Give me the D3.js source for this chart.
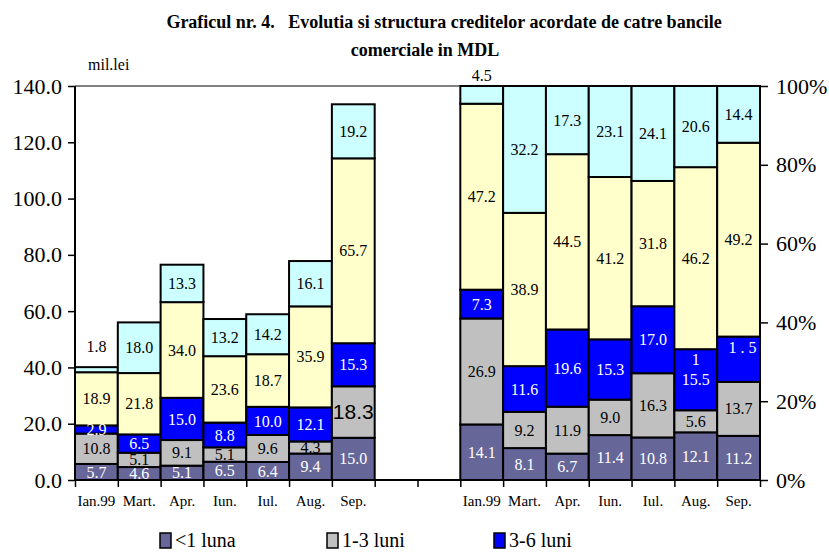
<!DOCTYPE html>
<html>
<head>
<meta charset="utf-8">
<script src="https://cdn.jsdelivr.net/npm/d3@7"></script>
<style>
  body { margin: 0; background: #fff; }
  svg text { font-family: "Liberation Serif", "Times New Roman", serif; }
  svg text.sans { font-family: "Liberation Sans", Arial, sans-serif; }
</style>
</head>
<body>
<svg id="chart" width="829" height="552"></svg>
<script>
// month labels (same for both groups)
const categories = ["Ian.99", "Mart.", "Apr.", "Iun.", "Iul.", "Aug.", "Sep."];
const legendNames = ["<1 luna", "1-3 luni", "3-6 luni"];
const leftTicks = [0, 20, 40, 60, 80, 100, 120, 140];
const rightTicks = [0, 20, 40, 60, 80, 100];

// left group: mil.lei
const absLt1 = [5.7, 4.6, 5.1, 6.5, 6.4, 9.4, 15.0];
const abs1to3 = [10.8, 5.1, 9.1, 5.1, 9.6, 4.3, 18.3];
const abs3to6 = [2.9, 6.5, 15.0, 8.8, 10.0, 12.1, 15.3];
const abs6to12 = [18.9, 21.8, 34.0, 23.6, 18.7, 35.9, 65.7];
const absOver12 = [1.8, 18.0, 13.3, 13.2, 14.2, 16.1, 19.2];
// right group: structure, %
const pctLt1 = [14.1, 8.1, 6.7, 11.4, 10.8, 12.1, 11.2];
const pct1to3 = [26.9, 9.2, 11.9, 9.0, 16.3, 5.6, 13.7];
const pct3to6 = [7.3, 11.6, 19.6, 15.3, 17.0, 15.5, 11.5];
const pct6to12 = [47.2, 38.9, 44.5, 41.2, 31.8, 46.2, 49.2];
const pctOver12 = [4.5, 32.2, 17.3, 23.1, 24.1, 20.6, 14.4];

const colors = ["#666699", "#C0C0C0", "#0000FF", "#FFFFCC", "#CCFFFF"];
const labelColors = ["#fff", "#000", "#fff", "#000", "#000"];

const svg = d3.select("#chart");
const margin = {top: 86, left: 75, right: 69, bottom: 72};
const width = 829 - margin.left - margin.right,   // 685
      height = 552 - margin.top - margin.bottom;  // 394

// 16 slots: 7 bars, 2 empty, 7 bars
const slots = categories.map((c, i) => "L" + i).concat(["g1", "g2"], categories.map((c, i) => "R" + i));
const x = d3.scaleBand().domain(slots).range([0, width]).padding(0);
const yL = d3.scaleLinear().domain([0, 140]).range([height, 0]);
const yR = d3.scaleLinear().domain([0, 100]).range([height, 0]);

const g = svg.append("g").attr("transform", "translate(" + margin.left + "," + margin.top + ")");

const absSeries = [absLt1, abs1to3, abs3to6, abs6to12, absOver12];
const pctSeries = [pctLt1, pct1to3, pct3to6, pct6to12, pctOver12];

// flatten into segments
let segs = [];
categories.forEach(function(c, i) {
  let cumA = 0, cumP = 0;
  absSeries.forEach(function(s, k) {
    segs.push({slot: "L" + i, k: k, y0: cumA, y1: cumA + s[i], v: s[i], y: yL, side: "L", i: i});
    cumA += s[i];
  });
  pctSeries.forEach(function(s, k) {
    segs.push({slot: "R" + i, k: k, y0: cumP, y1: cumP + s[i], v: s[i], y: yR, side: "R", i: i});
    cumP += s[i];
  });
});

// top border of plot area
g.append("line")
  .attr("x1", 0).attr("x2", width).attr("y1", 0).attr("y2", 0)
  .attr("stroke", "#808080").attr("stroke-width", 2);

g.selectAll("rect.seg")
  .data(segs)
  .enter().append("rect")
  .attr("class", "seg")
  .attr("x", d => x(d.slot))
  .attr("width", x.bandwidth())
  .attr("y", d => d.y(d.y1))
  .attr("height", d => d.y(d.y0) - d.y(d.y1))
  .attr("fill", d => colors[d.k])
  .attr("stroke", "#000")
  .attr("stroke-width", 2);

// axes
const yAxisL = d3.axisLeft(yL).tickValues(leftTicks).tickFormat(d3.format(".1f")).tickSize(7).tickPadding(6);
const yAxisR = d3.axisRight(yR).tickValues(rightTicks).tickFormat(d => d + "%").tickSize(8).tickPadding(8);
const xTicks = d3.scaleLinear().domain([0, slots.length]).range([0, width]);
const xAxis = d3.axisBottom(xTicks).tickValues(d3.range(slots.length + 1)).tickFormat("").tickSize(7).tickSizeOuter(0);

const ax = g.append("g").call(yAxisL);
const ar = g.append("g").attr("transform", "translate(" + width + ",0)").call(yAxisR);
const ab = g.append("g").attr("transform", "translate(0," + height + ")").call(xAxis);
[ax, ar, ab].forEach(function(a) {
  a.attr("font-family", null);
  a.selectAll("path.domain").attr("stroke", "#000").attr("stroke-width", 2);
  a.selectAll(".tick line").attr("stroke", "#000").attr("stroke-width", 1.5);
  a.selectAll("text").attr("font-size", "22px").attr("fill", "#000");
});
ax.select("path.domain").attr("d", "M0," + height + "V0");
ar.select("path.domain").attr("d", "M0," + height + "V0");
ab.select("path.domain").attr("d", "M0,0H" + width);

// category labels under both groups
g.selectAll("text.cat")
  .data(slots.filter(s => s[0] !== "g"))
  .enter().append("text")
  .attr("class", "cat")
  .attr("x", d => x(d) + x.bandwidth() / 2)
  .attr("y", height + 26)
  .attr("text-anchor", "middle")
  .attr("font-size", "15px")
  .text(d => categories[+d.slice(1)]);

// data labels, with the few odd ones from the original
const fmt = d3.format(".1f");
svg.append("clipPath").attr("id", "lc").append("rect")
  .attr("x", -margin.left).attr("y", -margin.top).attr("width", width + margin.left + 1).attr("height", 552);
const labels = g.append("g").attr("clip-path", "url(#lc)");
segs.forEach(function(d) {
  let cx = x(d.slot) + x.bandwidth() / 2;
  let cy = (d.y(d.y0) + d.y(d.y1)) / 2;
  let lines = [fmt(d.v)];
  let cls = "lbl", size = 16;
  if (d.side === "L" && d.i === 0 && d.k === 4) cy -= 23;
  if (d.side === "R" && d.i === 0 && d.k === 4) cy -= 19;
  if (d.side === "L" && d.i === 6 && d.k === 1) { cls = "lbl sans"; size = 21; }
  if (d.side === "R" && d.i === 5 && d.k === 2) lines = ["1", fmt(d.v)];
  if (d.side === "R" && d.i === 6 && d.k === 2) { lines = ["1  .   5"]; cx += 4; cy -= 12; }
  lines.forEach(function(t, j) {
    labels.append("text")
      .attr("class", cls)
      .attr("x", cx)
      .attr("y", cy - (lines.length - 1 - j) * 20)
      .attr("dy", "0.35em")
      .attr("text-anchor", "middle")
      .attr("font-size", size + "px")
      .attr("fill", labelColors[d.k])
      .text(t);
  });
});

// title
svg.append("text")
  .attr("x", 444).attr("y", 28)
  .attr("text-anchor", "middle")
  .attr("font-weight", "bold").attr("font-size", "18px")
  .attr("xml:space", "preserve")
  .text("Graficul nr. 4.   Evolutia si structura creditelor acordate de catre bancile");
svg.append("text")
  .attr("x", 425).attr("y", 56)
  .attr("text-anchor", "middle")
  .attr("font-weight", "bold").attr("font-size", "18px")
  .text("comerciale in MDL");
svg.append("text")
  .attr("x", 88).attr("y", 70)
  .attr("font-size", "16px")
  .text("mil.lei");

// legend (only first row is visible in the original)
const legend = svg.append("g").selectAll("g")
  .data(legendNames)
  .enter().append("g")
  .attr("transform", (d, i) => "translate(" + (160 + i * 167) + ",533)");
legend.append("rect")
  .attr("width", 11).attr("height", 15)
  .attr("fill", (d, i) => colors[i])
  .attr("stroke", "#000").attr("stroke-width", 1.5);
legend.append("text")
  .attr("x", 15).attr("y", 14)
  .attr("font-size", "20px")
  .text(d => d);
</script>
</body>
</html>
